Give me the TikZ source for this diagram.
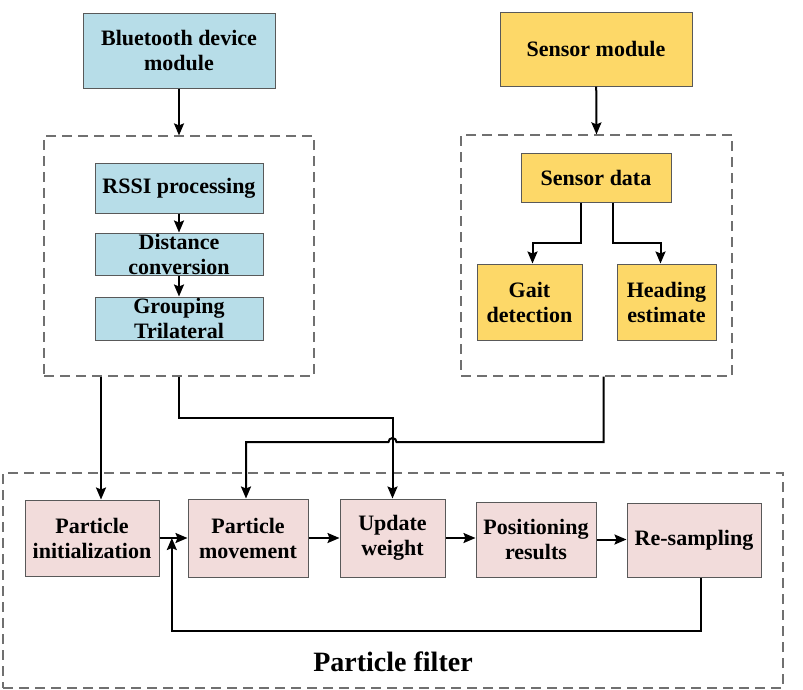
\documentclass[tikz,border=0pt]{standalone}
\usepackage{fontspec}
\setmainfont{Liberation Serif}
\usetikzlibrary{arrows.meta,calc}
\definecolor{cBlueBg}{HTML}{B7DDE8}
\definecolor{cYelBg} {HTML}{FDD868}
\definecolor{cPinkBg}{HTML}{F2DCDB}
\definecolor{cEdge}  {HTML}{595959}
\definecolor{cDash}  {HTML}{707070}

\begin{document}
\begin{tikzpicture}[
  x=1pt, y=-1pt,
  font=\fontsize{22}{25}\selectfont\bfseries,
  blk/.style={draw=cEdge, line width=1pt, align=center, inner sep=0pt},
  grp/.style={draw=cDash, line width=1.2pt, dash pattern=on 10pt off 6pt, inner sep=0pt},
  ar/.style={-{Stealth[length=12pt, width=10pt, inset=2pt]}, line width=2pt},
]
\useasboundingbox (0,0) rectangle (803,689);

% ============================================================ bluetooth side
\node[blk, fill=cBlueBg, minimum width=192pt, minimum height=75pt] at (179,50.5) (bt)
  {Bluetooth device\\module};
\node[grp, minimum width=270pt, minimum height=240pt] at (179,256) (lg) {};
\node[blk, fill=cBlueBg, minimum width=168pt, minimum height=50pt] at (179,188) (rssi)
  {RSSI processing};
\node[blk, fill=cBlueBg, minimum width=168pt, minimum height=42pt] at (179,254) (dist)
  {Distance\\conversion};
\node[blk, fill=cBlueBg, minimum width=168pt, minimum height=43pt] at (179,318.5) (trl)
  {Grouping\\Trilateral};

% ============================================================ sensor side
\node[blk, fill=cYelBg, minimum width=192pt, minimum height=74pt] at (596,49) (sm)
  {Sensor module};
\node[grp, minimum width=271pt, minimum height=241pt] at (596.5,255.5) (rg) {};
\node[blk, fill=cYelBg, minimum width=150pt, minimum height=49pt] at (596,177.5) (sd)
  {Sensor data};
\node[blk, fill=cYelBg, minimum width=105pt, minimum height=76pt] at (529.5,302) (gait)
  {Gait\\detection};
\node[blk, fill=cYelBg, minimum width=99pt, minimum height=76pt] at (666.5,302) (head)
  {Heading\\estimate};

% ============================================================ particle filter
\node[grp, minimum width=780pt, minimum height=215pt] at (393,580.5) (pf) {};
\node[font=\fontsize{28}{32}\selectfont\bfseries] at (393,662) (pfl) {Particle filter};
\node[blk, fill=cPinkBg, minimum width=134pt, minimum height=76pt] at (92,538) (pinit)
  {Particle\\initialization};
\node[blk, fill=cPinkBg, minimum width=120pt, minimum height=78pt] at (248,538) (pmove)
  {Particle\\movement};
\node[blk, fill=cPinkBg, minimum width=105pt, minimum height=78pt] at (392.5,538) (upd)
  {Update\\weight};
\node[blk, fill=cPinkBg, minimum width=120pt, minimum height=75pt] at (536,539.5) (pos)
  {Positioning\\results};
\node[blk, fill=cPinkBg, minimum width=134pt, minimum height=74pt] at (694,540) (res)
  {Re-sampling};

% ============================================================ arrows
\draw[ar] (bt) -- (lg.north);
\draw[ar] (sm) -- (rg.north);
\draw[ar] (rssi) -- (dist);
\draw[ar] (dist) -- (trl);
\draw[ar] ([xshift=-15pt]sd.south) -- ++(0,40) -| ([xshift=3pt]gait.north);
\draw[ar] ([xshift=17pt]sd.south) -- ++(0,40) -| ([xshift=-6pt]head.north);

\coordinate (hop) at (upd.north |- 0,442);
\draw[ar] ([xshift=-78pt]lg.south) -- ([xshift=9pt]pinit.north);
\draw[ar] (lg.south) -- ++(0,41) -| (upd.north);
\draw[ar] ([xshift=7pt]rg.south) |- ([xshift=4pt]hop)
  arc[start angle=0, end angle=180, radius=4pt] -| ([xshift=-2pt]pmove.north);

\draw[ar] (pinit.east) -- (pinit.east -| pmove.west);
\draw[ar] (pmove.east) -- (pmove.east -| upd.west);
\draw[ar] (upd.east)   -- (upd.east -| pos.west);
\draw[ar] (pos.east)   -- (pos.east -| res.west);

% feedback
\coordinate (fb) at ($(pinit.east)!0.44!(pmove.west)$);
\draw[ar] ([xshift=7pt]res.south) -- ++(0,53) -| (fb);

\end{tikzpicture}
\end{document}
